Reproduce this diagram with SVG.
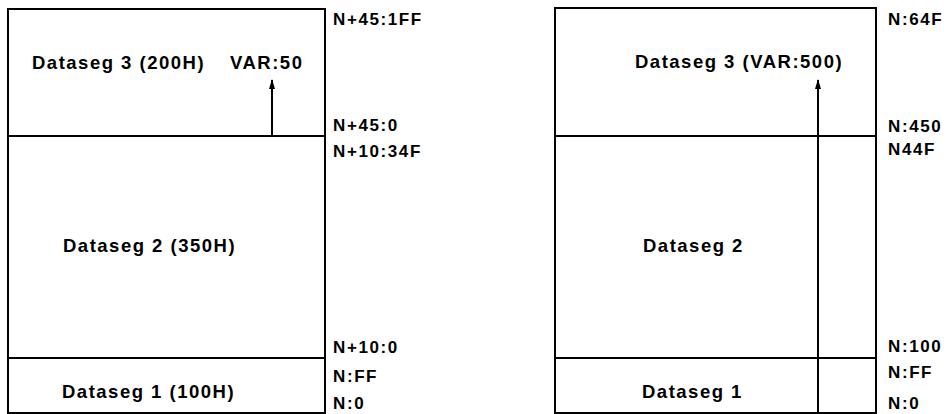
<svg xmlns="http://www.w3.org/2000/svg" width="947" height="414" viewBox="0 0 947 414">
<style>
.box{fill:#fff;stroke:#000;stroke-width:2}
.ln{stroke:#000;stroke-width:2;fill:none}
.t{font-family:"Liberation Sans",Arial,sans-serif;font-weight:bold;font-size:18.5px;letter-spacing:1.5px;fill:#000}
.a{font-family:"Liberation Sans",Arial,sans-serif;font-weight:bold;font-size:17px;letter-spacing:1.6px;fill:#000}
</style>
<defs>
<marker id="ah" markerWidth="10" markerHeight="6" refX="9" refY="3" orient="auto" markerUnits="userSpaceOnUse" viewBox="0 0 10 6">
<path d="M0,0 L10,3 L0,6 Z" fill="#000"/>
</marker>
</defs>
<rect width="947" height="414" fill="#fff"/>
<g id="left-seg3">
<rect class="box" x="8" y="9" width="317" height="127"/>
<text class="t" x="32" y="69">Dataseg 3 (200H)</text>
<text class="t" x="230" y="69">VAR:50</text>
</g>
<g id="left-seg2">
<rect class="box" x="8" y="136" width="317" height="222"/>
<text class="t" x="63" y="252">Dataseg 2 (350H)</text>
</g>
<g id="left-seg1">
<rect class="box" x="8" y="358" width="317" height="55"/>
<text class="t" x="62" y="398">Dataseg 1 (100H)</text>
</g>
<g id="left-addr">
<text class="a" x="333" y="25">N+45:1FF</text>
<text class="a" x="333" y="131">N+45:0</text>
<text class="a" x="333" y="157">N+10:34F</text>
<text class="a" x="333" y="353">N+10:0</text>
<text class="a" x="333" y="382">N:FF</text>
<text class="a" x="333" y="409">N:0</text>
</g>
<g id="right-seg3">
<rect class="box" x="555" y="8" width="321" height="128"/>
<text class="t" x="635" y="68">Dataseg 3 (VAR:500)</text>
</g>
<g id="right-seg2">
<rect class="box" x="555" y="136" width="321" height="222"/>
<text class="t" x="643" y="252">Dataseg 2</text>
</g>
<g id="right-seg1">
<rect class="box" x="555" y="358" width="321" height="55"/>
<text class="t" x="642" y="398">Dataseg 1</text>
</g>
<g id="right-addr">
<text class="a" x="888" y="25">N:64F</text>
<text class="a" x="888" y="132">N:450</text>
<text class="a" x="888" y="155">N44F</text>
<text class="a" x="888" y="352">N:100</text>
<text class="a" x="888" y="378">N:FF</text>
<text class="a" x="888" y="409">N:0</text>
</g>
<g id="connectors">
<line class="ln" x1="272" y1="136" x2="272" y2="80" marker-end="url(#ah)"/>
<line class="ln" x1="818" y1="413" x2="818" y2="80" marker-end="url(#ah)"/>
</g>
</svg>
